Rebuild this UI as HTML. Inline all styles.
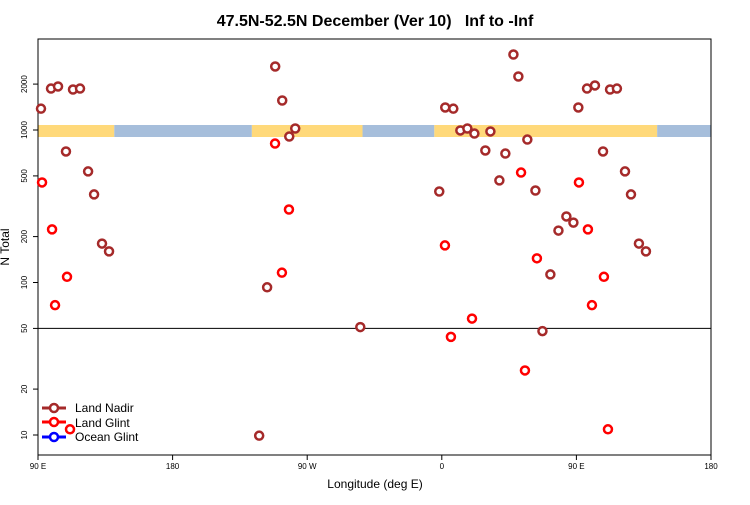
<!DOCTYPE html>
<html><head><meta charset="utf-8"><style>
body{margin:0;background:#fff;}
svg{font-family:"Liberation Sans",sans-serif;}
</style></head><body>
<svg id="chart" width="750" height="500">
<text x="375" y="26" text-anchor="middle" font-size="16" font-weight="bold" style="white-space:pre">47.5N-52.5N December (Ver 10)&#160;&#160;&#160;Inf to -Inf</text>
<g id="band"></g>
<rect x="38" y="39" width="673" height="416" fill="none" stroke="#000"/>
<g id="axes"></g>
<g id="marks"></g>
<text x="375" y="488" text-anchor="middle" font-size="12">Longitude (deg E)</text>
<text transform="translate(9,247) rotate(-90)" text-anchor="middle" font-size="12">N Total</text>
<g>
<g><line x1="42" y1="408" x2="66" y2="408" stroke="#a52a2a" stroke-width="3"/><circle cx="54" cy="408" r="4" fill="#fff" stroke="#a52a2a" stroke-width="2.5"/><text x="75" y="412" font-size="12">Land Nadir</text></g>
<g><line x1="42" y1="422" x2="66" y2="422" stroke="#ff0000" stroke-width="3"/><circle cx="54" cy="422" r="4" fill="#fff" stroke="#ff0000" stroke-width="2.5"/><text x="75" y="427" font-size="12">Land Glint</text></g>
<g><line x1="42" y1="437" x2="66" y2="437" stroke="#0000ff" stroke-width="3"/><circle cx="54" cy="437" r="4" fill="#fff" stroke="#0000ff" stroke-width="2.5"/><text x="75" y="441" font-size="12">Ocean Glint</text></g>
</g>
</svg>
<script>
const xTickValues=[90,180,270,360,450,540];
const xTickLabels=["90 E","180","90 W","0","90 E","180"];
const yTickValues=[10,20,50,100,200,500,1000,2000];
const bandSegments=[[90,141,"land"],[141,233,"ocean"],[233,307,"land"],[307,355,"ocean"],[355,504,"land"],[504,540,"ocean"]];
const nadirLon=[92,98.7,103.4,108.7,113.4,118.1,123.5,127.5,132.8,137.5,243.2,248.6,253.3,258,262,305.5,237.9,358.3,362.3,367.7,372.4,377.1,381.8,389.1,392.5,398.5,402.5,407.9,411.2,417.2,422.6,427.3,432.6,438,443.3,448,451.3,457.1,462.4,467.8,472.5,477.1,482.5,486.5,491.8,496.5];
const nadirN=[1380,1870,1930,723,1843,1870,535,378,180,160,93,2609,1561,906,1023,51,9.9,395,1405,1380,993,1023,948,734,978,467,701,3126,2243,866,401,48,113,219,271,247,1405,1870,1959,723,1843,1870,535,378,180,160];
const glintLon=[92.7,99.4,101.4,109.4,111.4,248.5,253.1,257.8,362.1,366.1,380.2,413,415.6,423.6,451.7,457.7,460.4,468.4,471.1];
const glintN=[453,223,71,109,10.9,815,116,301,175,44,58,526,26.5,144,453,223,71,109,10.9];
const oceanLon=[];const oceanN=[];
const NS="http://www.w3.org/2000/svg";
const X0=38,X1=711,Y10=435,DEC=152.5;
function xs(l){return X0+(l-90)*(X1-X0)/450;}
function ys(v){return Y10-(Math.log10(v)-1)*DEC;}
function mk(t,a,p){const e=document.createElementNS(NS,t);for(const k in a)e.setAttribute(k,a[k]);p.appendChild(e);return e;}
const band=document.getElementById('band');
bandSegments.forEach(s=>{const r=mk('rect',{x:xs(s[0]),y:125,width:xs(s[1])-xs(s[0]),height:12,fill:s[2]=="land"?"#ffd97a":"#a6bedb"},band);

});
const ax=document.getElementById('axes');
const hl=mk('line',{x1:X0,x2:X1,y1:ys(50),y2:ys(50),stroke:"#000"},ax);


xTickValues.forEach((v,i)=>{const x=xs(v);mk('line',{x1:x,x2:x,y1:455,y2:460,stroke:"#000"},ax);
const t=mk('text',{x:x,y:469,"text-anchor":"middle","font-size":"8"},ax);t.textContent=xTickLabels[i];

});
yTickValues.forEach(v=>{const y=ys(v);mk('line',{x1:33,x2:38,y1:y,y2:y,stroke:"#000"},ax);
const t=mk('text',{transform:`translate(27,${y}) rotate(-90)`,"text-anchor":"middle","font-size":"8"},ax);t.textContent=v;

});
const mg=document.getElementById('marks');
function pts(L,N,c,n){L.forEach((l,i)=>{const p=mk('circle',{cx:xs(l),cy:ys(N[i]),r:4,fill:"#fff",stroke:c,"stroke-width":2.5},mg);

});}
pts(nadirLon,nadirN,"#a52a2a","land-nadir-point");
pts(glintLon,glintN,"#ff0000","land-glint-point");
pts(oceanLon,oceanN,"#0000ff","ocean-glint-point");
</script>
</body></html>
